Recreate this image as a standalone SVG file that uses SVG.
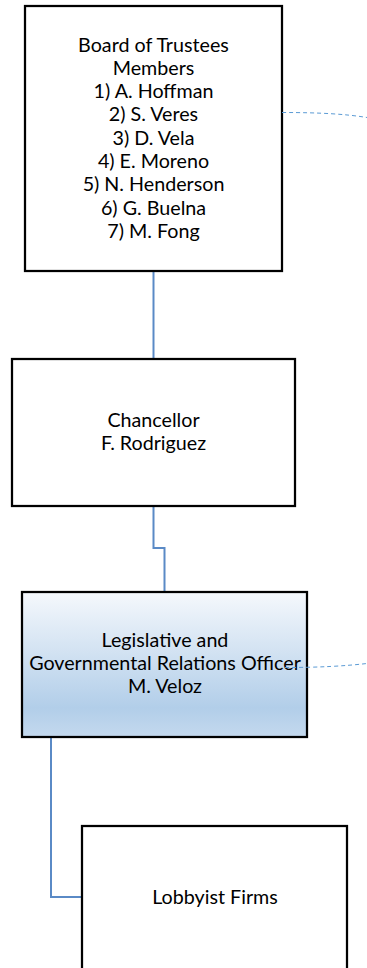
<svg xmlns="http://www.w3.org/2000/svg" width="367" height="968" viewBox="0 0 367 968">
<defs>
<linearGradient id="g1" x1="0" y1="0" x2="0" y2="1">
<stop offset="0" stop-color="#f5f8fc"/>
<stop offset="0.8" stop-color="#b2cee9"/>
<stop offset="1" stop-color="#c4d9ee"/>
</linearGradient>
</defs>
<style>
.box{fill:#ffffff;stroke:#000000;stroke-width:2.25}
.t{font-family:Lato,"Liberation Sans",sans-serif;font-size:19.7px;fill:#000000;text-anchor:middle}
.c{fill:none;stroke:#5a8ac6;stroke-width:2}
.d{fill:none;stroke:#5b9bd5;stroke-width:1;stroke-dasharray:4 3}
</style>
<g id="connectors">
<path class="c" d="M153.5,271 V359"/>
<path class="c" d="M153.5,506 V548 H164.5 V592"/>
<path class="c" d="M51,737 V897 H82"/>
</g>
<g id="board">
<rect class="box" x="25" y="6" width="257" height="265"/>
<text class="t" x="153.5" y="51.5">Board of Trustees</text>
<text class="t" x="153.5" y="74.8">Members</text>
<text class="t" x="153.5" y="98.1">1) A. Hoffman</text>
<text class="t" x="153.5" y="121.4">2) S. Veres</text>
<text class="t" x="153.5" y="144.7">3) D. Vela</text>
<text class="t" x="153.5" y="168">4) E. Moreno</text>
<text class="t" x="153.5" y="191.3">5) N. Henderson</text>
<text class="t" x="153.5" y="214.6">6) G. Buelna</text>
<text class="t" x="153.5" y="237.9">7) M. Fong</text>
</g>
<g id="chancellor">
<rect class="box" x="12" y="359" width="283" height="147"/>
<text class="t" x="153.5" y="426.5">Chancellor</text>
<text class="t" x="153.5" y="450">F. Rodriguez</text>
</g>
<g id="officer">
<rect class="box" x="22" y="592" width="285" height="145" style="fill:url(#g1)"/>
<text class="t" x="165" y="646.7">Legislative and</text>
<text class="t" x="165" y="670">Governmental Relations Officer</text>
<text class="t" x="165" y="693.3">M. Veloz</text>
</g>
<g id="lobbyist">
<rect class="box" x="82" y="826" width="265" height="160"/>
<text class="t" x="215" y="904">Lobbyist Firms</text>
</g>
<g id="dashed">
<path class="d" d="M282,112.5 C320,112.5 345,114 367,117.5"/>
<path class="d" d="M285,667.5 C320,667.5 345,666 367,663.5"/>
</g>
</svg>
